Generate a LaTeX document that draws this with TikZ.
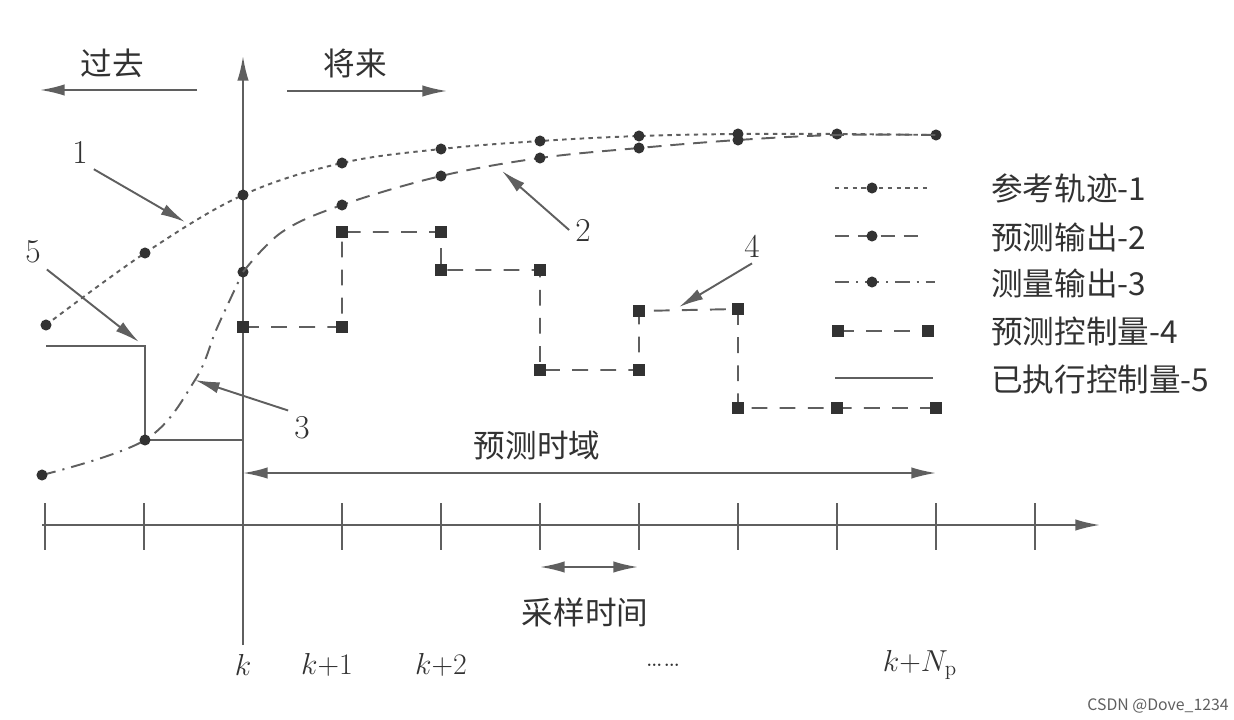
\documentclass[tikz,border=0pt]{standalone}
\usepackage{fontspec}
\usetikzlibrary{arrows.meta}
\newfontfamily\cjk{Noto Sans CJK SC}
\definecolor{ccgris}{RGB}{95,95,95}
\definecolor{ccnoir}{RGB}{50,50,50}

\begin{document}
\begin{tikzpicture}[x=0.02cm,y=-0.02cm]

  % Styles
  \tikzstyle{trait} = [ccgris, line width=1.1pt]
  \tikzstyle{fleche} = [trait, -{Latex[length=14pt,width=6.5pt]}]
  \tikzstyle{doublefleche} = [trait, {Latex[length=14pt,width=6.5pt]}-{Latex[length=14pt,width=6.5pt]}]
  \tikzstyle{pointille} = [trait, dash pattern=on 2.5pt off 2.5pt]
  \tikzstyle{tirets} = [trait, dash pattern=on 8pt off 5pt]
  \tikzstyle{mixte} = [trait, dash pattern=on 8pt off 4pt on 1.2pt off 4pt]
  \tikzstyle{commande} = [trait, dash pattern=on 9pt off 7pt]
  \tikzstyle{rond} = [circle, fill=ccnoir, inner sep=0pt, minimum size=6.3pt]
  \tikzstyle{carre} = [rectangle, fill=ccnoir, inner sep=0pt, minimum size=7pt]
  \tikzstyle{etiquette} = [text=ccnoir, font=\cjk\fontsize{18}{20}\selectfont]
  \tikzstyle{numero} = [text=ccnoir, font=\fontsize{19}{21}\selectfont]
  \tikzstyle{instant} = [text=ccnoir, font=\fontsize{17}{19}\selectfont]

  \useasboundingbox (0,0) rectangle (1234,720);

  % Axes
  \coordinate (debut) at (42,525);
  \coordinate (fin) at (1100,525);
  \coordinate (base) at (243,645);
  \coordinate (haut) at (243,56);
  \draw[fleche] (debut) -- (fin);
  \draw[fleche] (base) -- (haut);
  \foreach \i in {-2,...,8}
    \draw[trait] ({243+99*\i},503) -- ({243+99*\i},550);

  % Passe / futur
  \draw (112,63) node[etiquette] (passe) {过去};
  \draw (355,63) node[etiquette] (futur) {将来};
  \coordinate (passeA) at (197,90);
  \coordinate (passeB) at (40,90);
  \coordinate (futurA) at (287,91);
  \coordinate (futurB) at (447,91);
  \draw[fleche] (passeA) -- (passeB);
  \draw[fleche] (futurA) -- (futurB);

  % Commande executee (5)
  \draw[trait] (46,346) -- (145,346) -- (145,440) -- (243,440);

  % Commande predite (4)
  \draw[commande] (243,327) -- (342,327) -- (342,232) -- (441,232) -- (441,270) -- (540,270)
    -- (540,370) -- (639,370) -- (639,311) -- (738,309) -- (738,408) -- (936,408);
  \foreach \x/\y in {243/327, 342/327, 342/232, 441/232, 441/270, 540/270, 540/370,
                     639/370, 639/311, 738/309, 738/408, 837/408, 936/408}
    \node[carre] at (\x,\y) {};

  % Trajectoire de reference (1)
  \draw[pointille] plot[smooth, tension=0.6] coordinates {(46,325) (145,253) (243,195) (342,163)
    (441,149) (540,141) (639,136) (738,134) (837,134) (936,135)};
  \foreach \x/\y in {46/325, 145/253, 243/195, 342/163, 441/149, 540/141, 639/136, 738/134, 837/134, 936/135}
    \node[rond] at (\x,\y) {};

  % Sortie mesuree (3)
  \draw[mixte] plot[smooth, tension=0.6] coordinates {(42,475) (145,440) (195,380) (217,328) (243,272)};
  \foreach \x/\y in {42/475, 145/440, 243/272}
    \node[rond] at (\x,\y) {};

  % Sortie predite (2)
  \draw[tirets] plot[smooth, tension=0.6] coordinates {(243,272) (282,232) (342,205) (441,176)
    (540,158) (639,148) (738,140) (837,135) (936,135)};
  \foreach \x/\y in {342/205, 441/176, 540/158, 639/148, 738/140}
    \node[rond] at (\x,\y) {};

  % Reperes 1 a 5
  \draw (80,152) node[numero] (n1) {1};
  \draw (583,230) node[numero] (n2) {2};
  \draw (302,428) node[numero] (n3) {3};
  \draw (752,246) node[numero] (n4) {4};
  \draw (33,252) node[numero] (n5) {5};
  \coordinate (c1) at (185,222);
  \coordinate (c2) at (502,171);
  \coordinate (c3) at (195,380);
  \coordinate (c4) at (679,307);
  \coordinate (c5) at (139,342);
  \draw[fleche] (n1.south east) -- (c1);
  \draw[fleche] (n2.west) -- (c2);
  \draw[fleche] (n3.north west) -- (c3);
  \draw[fleche] (n4.south) -- (c4);
  \draw[fleche] (n5.south east) -- (c5);

  % Horizon de prediction
  \draw (537,445) node[etiquette] (horizon) {预测时域};
  \coordinate (horizonA) at (243,473);
  \coordinate (horizonB) at (936,473);
  \draw[doublefleche] (horizonA) -- (horizonB);

  % Periode d'echantillonnage
  \coordinate (echA) at (540,567);
  \coordinate (echB) at (638,567);
  \draw[doublefleche] (echA) -- (echB);
  \draw (585,612) node[etiquette] (ech) {采样时间};

  % Instants
  \draw (243,665) node[instant] (k0) {$k$};
  \draw (327,665) node[instant] (k1) {$k$+1};
  \draw (441,665) node[instant] (k2) {$k$+2};
  \draw (663,665) node[instant] (kdots) {\dots\dots};
  \draw (920,665) node[instant] (kN) {$k$+$N_{\mathrm{p}}$};

  % Legende
  \coordinate (l1a) at (835,188); \coordinate (l1b) at (930,188);
  \coordinate (l2a) at (835,236); \coordinate (l2b) at (925,236);
  \coordinate (l3a) at (835,282); \coordinate (l3b) at (935,282);
  \coordinate (l4a) at (838,331); \coordinate (l4b) at (928,331);
  \coordinate (l5a) at (835,378); \coordinate (l5b) at (933,378);
  \draw[pointille] (l1a) -- (l1b);
  \draw[tirets] (l2a) -- (l2b);
  \draw[mixte] (l3a) -- (l3b);
  \draw[commande] (l4a) -- (l4b);
  \draw[trait] (l5a) -- (l5b);
  \node[rond] at (872,188) {};
  \node[rond] at (872,236) {};
  \node[rond] at (872,282) {};
  \node[carre] at (l4a) {};
  \node[carre] at (l4b) {};
  \draw (985,188) node[etiquette, anchor=west] (leg1) {参考轨迹-1};
  \draw (985,237) node[etiquette, anchor=west] (leg2) {预测输出-2};
  \draw (985,283) node[etiquette, anchor=west] (leg3) {测量输出-3};
  \draw (985,331) node[etiquette, anchor=west] (leg4) {预测控制量-4};
  \draw (985,380) node[etiquette, anchor=west] (leg5) {已执行控制量-5};

  % Filigrane
  \draw (1158,706) node[text=ccgris, font=\cjk\fontsize{9}{10}\selectfont] (filigrane) {CSDN @Dove\_1234};

\end{tikzpicture}
\end{document}
